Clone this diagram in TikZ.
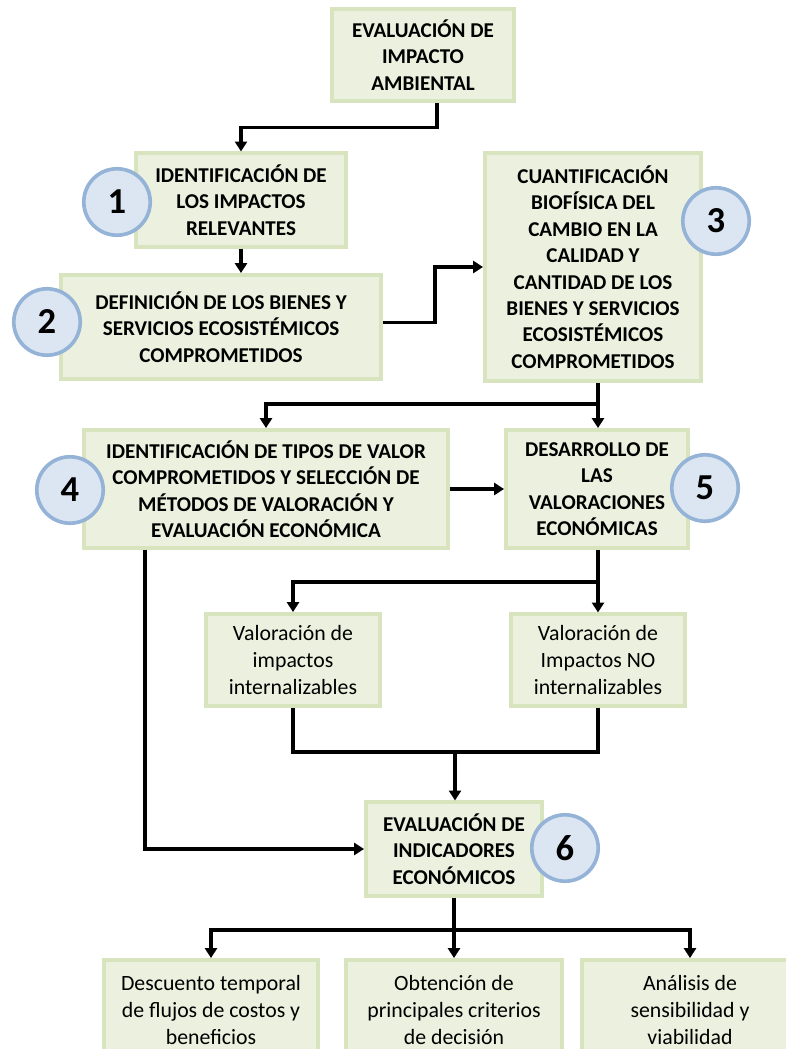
\documentclass[tikz,border=0pt]{standalone}
\usepackage{fontspec}
\setmainfont{Carlito}
\usepackage{xcolor}
\usepackage{tikz}
\usetikzlibrary{positioning,calc,arrows.meta}
\definecolor{boxfill}{HTML}{EBF1DE}
\definecolor{boxline}{HTML}{D7E4BD}
\definecolor{numfill}{HTML}{DCE6F2}
\definecolor{numline}{HTML}{95B3D7}

\begin{document}
\begin{tikzpicture}[x=0.025cm, y=-0.025cm,
    box/.style={draw=boxline, fill=boxfill, line width=2.5pt, rectangle, align=center, inner sep=0pt, font=\fontsize{15.5}{19.4}\selectfont},
    boldbox/.style={box, font=\fontsize{15}{18.8}\selectfont\bfseries},
    numcirc/.style={draw=numline, fill=numfill, line width=2.6pt, circle, minimum size=1.66cm, inner sep=0pt, font=\fontsize{26}{26}\selectfont\bfseries},
    wire/.style={line width=2.3pt},
    link/.style={wire, -{Triangle[length=7pt,width=8.5pt]}}]
    \useasboundingbox (0,0) rectangle (786,1049);
    \clip (0,0) rectangle (786,1049);

    \node (eia) [boldbox, minimum width=4.54cm, minimum height=2.3cm] at (423,55) {EVALUACIÓN DE\\IMPACTO\\AMBIENTAL};
    \node (ident) [boldbox, minimum width=5.26cm, minimum height=2.34cm] at (241,200) {IDENTIFICACIÓN DE\\LOS IMPACTOS\\RELEVANTES};
    \node (bienes) [boldbox, minimum width=8.01cm, minimum height=2.61cm] at (221,327) {DEFINICIÓN DE LOS BIENES Y\\SERVICIOS ECOSISTÉMICOS\\COMPROMETIDOS};
    \node (cuant) [boldbox, minimum width=5.41cm, minimum height=5.69cm] at (593,267) {CUANTIFICACIÓN\\BIOFÍSICA DEL\\CAMBIO EN LA\\CALIDAD Y\\CANTIDAD DE LOS\\BIENES Y SERVICIOS\\ECOSISTÉMICOS\\COMPROMETIDOS};
    \node (tipos) [boldbox, minimum width=9.11cm, minimum height=2.96cm] at (266,489) {IDENTIFICACIÓN DE TIPOS DE VALOR\\COMPROMETIDOS Y SELECCIÓN DE\\MÉTODOS DE VALORACIÓN Y\\EVALUACIÓN ECONÓMICA};
    \node (desar) [boldbox, minimum width=4.56cm, minimum height=2.96cm] at (597,489) {DESARROLLO DE\\LAS\\VALORACIONES\\ECONÓMICAS};
    \node (vint) [box, minimum width=4.36cm, minimum height=2.31cm] at (293,660) {Valoración de\\impactos\\internalizables};
    \node (vno) [box, minimum width=4.34cm, minimum height=2.29cm] at (598,660) {Valoración de\\Impactos NO\\internalizables};
    \node (indic) [boldbox, minimum width=4.41cm, minimum height=2.34cm] at (454,849) {EVALUACIÓN DE\\INDICADORES\\ECONÓMICOS};
    \node (desc) [box, minimum width=5.34cm, minimum height=2.51cm] at (211,1010) {Descuento temporal\\de flujos de costos y\\beneficios};
    \node (crit) [box, minimum width=5.39cm, minimum height=2.51cm] at (454,1010) {Obtención de\\principales criterios\\de decisión};
    \node (sens) [box, minimum width=5.41cm, minimum height=2.51cm] at (690,1010) {Análisis de\\sensibilidad y\\viabilidad};

    \node (n1) [numcirc] at (117,202) {1};
    \node (n2) [numcirc] at (47,322) {2};
    \node (n3) [numcirc] at (716,221) {3};
    \node (n4) [numcirc] at (70,490) {4};
    \node (n5) [numcirc] at (705,488) {5};
    \node (n6) [numcirc] at (565,848) {6};

    \coordinate (split3) at (598,404);
    \coordinate (split5) at (598,582);
    \coordinate (join) at (455,752);
    \coordinate (split6) at (454,930);

    \draw[link] ([xshift=0.35cm]eia.south) -- ++(0,25) -| (ident.north);
    \draw[link] (ident.south) -- (ident.south |- bienes.north);
    \draw[link] ([yshift=0.12cm]bienes.east) -- ++(52,0) |- (cuant.west);
    \draw[wire] (cuant.south -| split3) -- (split3);
    \draw[link] (split3) -- (split3 |- desar.north);
    \draw[link] (split3) -| (tipos.north);
    \draw[link] (tipos.east) -- (desar.west);
    \draw[wire] (desar.south -| split5) -- (split5);
    \draw[link] (split5) -- (split5 |- vno.north);
    \draw[link] (split5) -| (vint.north);
    \draw[wire] (vint.south) |- (join);
    \draw[wire] (vno.south) |- (join);
    \draw[link] (join) -- (join |- indic.north);
    \draw[link] ([xshift=-3.025cm]tipos.south) |- (indic.west);
    \draw[wire] (indic.south) -- (split6);
    \draw[link] (split6) -| (desc.north);
    \draw[link] (split6) -- (crit.north);
    \draw[link] (split6) -| (sens.north);
\end{tikzpicture}
\end{document}
